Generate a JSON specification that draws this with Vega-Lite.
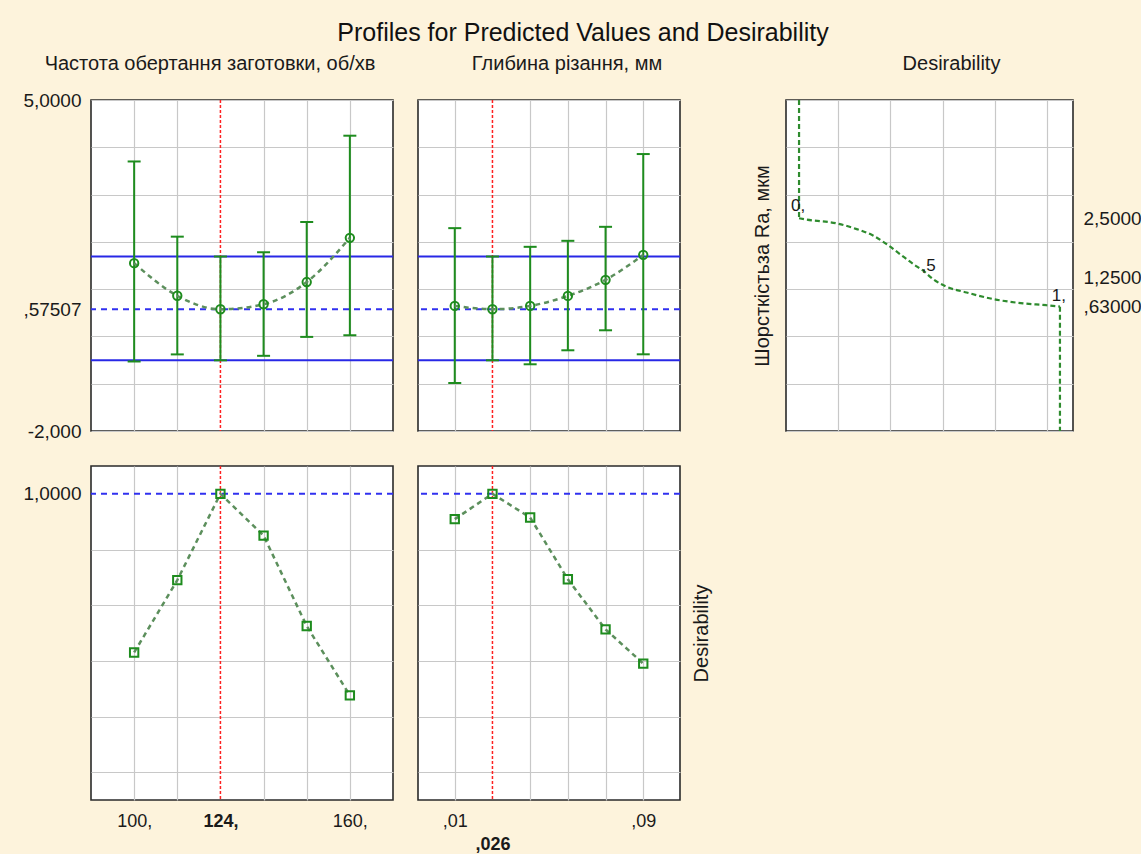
{
  "$schema": "https://vega.github.io/schema/vega-lite/v6.json",
  "background": "#fdf3dc",
  "padding": {"left": 22, "top": 21, "right": 0, "bottom": 0},
  "title": {"text": "Profiles for Predicted Values and Desirability", "fontSize": 25, "frame": "bounds", "anchor": "middle", "offset": -13, "baseline": "alphabetic", "dx": 1, "color": "#111111"},
  "config": {
    "font": "Liberation Sans",
    "view": {"stroke": "#2a2a2a", "strokeWidth": 1.6, "fill": "white"},
    "title": {"font": "Liberation Sans", "fontSize": 20, "fontWeight": "normal", "color": "#1a1a1a", "frame": "group", "anchor": "middle", "offset": 25, "baseline": "alphabetic"},
    "axis": {"gridColor": "#c8c8c8", "gridWidth": 1.2, "ticks": false, "domain": false, "labelFont": "Liberation Sans", "labelFontSize": 19, "labelColor": "#1a1a1a", "labelPadding": 10, "labelOverlap": false, "labelFlush": false, "titleFont": "Liberation Sans", "titleFontSize": 20, "titleFontWeight": "normal", "titleColor": "#1a1a1a"}
  },
  "datasets": {
    "speed": [
      {"x": 100, "pred": 1.55, "lo": -0.53, "hi": 3.70, "d": 0.43},
      {"x": 112, "pred": 0.86, "lo": -0.38, "hi": 2.11, "d": 0.69},
      {"x": 124, "pred": 0.575, "lo": -0.505, "hi": 1.69, "d": 1.0},
      {"x": 136, "pred": 0.68, "lo": -0.41, "hi": 1.78, "d": 0.85},
      {"x": 148, "pred": 1.15, "lo": -0.01, "hi": 2.42, "d": 0.525},
      {"x": 160, "pred": 2.085, "lo": 0.025, "hi": 4.245, "d": 0.276}
    ],
    "depth": [
      {"x": 0.01, "pred": 0.646, "lo": -0.985, "hi": 2.29, "d": 0.909},
      {"x": 0.026, "pred": 0.575, "lo": -0.505, "hi": 1.69, "d": 1.0},
      {"x": 0.042, "pred": 0.646, "lo": -0.589, "hi": 1.895, "d": 0.915},
      {"x": 0.058, "pred": 0.857, "lo": -0.293, "hi": 2.022, "d": 0.693},
      {"x": 0.074, "pred": 1.196, "lo": 0.13, "hi": 2.318, "d": 0.513},
      {"x": 0.09, "pred": 1.725, "lo": -0.378, "hi": 3.857, "d": 0.39}
    ],
    "refTop": [
      {"level": 1.69, "kind": "ci"},
      {"level": -0.505, "kind": "ci"},
      {"level": 0.57507, "kind": "mean"}
    ],
    "refBottom": [{"level": 1.0}],
    "current": [
      {"factor": "speed", "level": 124},
      {"factor": "depth", "level": 0.026}
    ],
    "curve": [
      {"d": 0, "ra": 2.5}, {"d": 0.03, "ra": 2.47}, {"d": 0.145, "ra": 2.39}, {"d": 0.221, "ra": 2.27},
      {"d": 0.285, "ra": 2.13}, {"d": 0.336, "ra": 1.95}, {"d": 0.387, "ra": 1.74}, {"d": 0.438, "ra": 1.53},
      {"d": 0.476, "ra": 1.39}, {"d": 0.514, "ra": 1.21}, {"d": 0.566, "ra": 1.05}, {"d": 0.642, "ra": 0.93},
      {"d": 0.744, "ra": 0.79}, {"d": 0.859, "ra": 0.70}, {"d": 0.948, "ra": 0.66}, {"d": 1.0, "ra": 0.63}
    ],
    "curveEnds": [
      {"d": 0, "top": 5, "bottom": 2.5},
      {"d": 1, "top": 0.63, "bottom": -2}
    ],
    "curveLabels": [
      {"d": 0, "ra": 2.75, "label": "0,"},
      {"d": 0.5, "ra": 1.49, "label": ",5"},
      {"d": 1, "ra": 0.86, "label": "1,"}
    ],
    "spacer": [{"z": 0}]
  },
  "columns": 4,
  "align": "each",
  "bounds": "flush",
  "spacing": {"row": 35, "column": 25},
  "concat": [
    {
      "width": 302, "height": 331,
      "title": {"text": "Частота обертання заготовки, об/хв", "dx": -32, "offset": 17},
      "resolve": {"axis": {"x": "independent", "y": "independent"}},
      "layer": [
        {"data": {"name": "refTop"}, "transform": [{"filter": "datum.kind == 'ci'"}],
         "mark": {"type": "rule", "color": "#2828e6", "strokeWidth": 2},
         "encoding": {"y": {"field": "level", "type": "quantitative", "scale": {"domain": [-2, 5], "nice": false, "zero": false},
           "axis": {"orient": "left", "values": [-2, -1, 0, 0.57507, 1, 2, 3, 4, 5], "title": null,
             "labelExpr": "datum.value == 5 ? '5,0000' : datum.value == -2 ? '-2,000' : datum.value == 0.57507 ? ',57507' : ''",
             "gridColor": {"condition": {"test": "datum.value == 0.57507", "value": "transparent"}, "value": "#c8c8c8"}}}}},
        {"data": {"name": "refTop"}, "transform": [{"filter": "datum.kind == 'mean'"}],
         "mark": {"type": "rule", "color": "#3030f0", "strokeWidth": 2, "strokeDash": [6, 5]},
         "encoding": {"y": {"field": "level", "type": "quantitative", "scale": {"domain": [-2, 5], "nice": false, "zero": false}, "axis": null}}},
        {"data": {"name": "current"}, "transform": [{"filter": "datum.factor == 'speed'"}],
         "mark": {"type": "rule", "color": "#ff2020", "strokeWidth": 1.5, "strokeDash": [3, 2]},
         "encoding": {"x": {"field": "level", "type": "quantitative", "scale": {"domain": [88, 172], "nice": false, "zero": false},
           "axis": {"orient": "bottom", "values": [100, 112, 124, 136, 148, 160], "labels": false, "title": null,
             "gridColor": {"condition": {"test": "datum.value == 124", "value": "transparent"}, "value": "#c8c8c8"}}}}},
        {"data": {"name": "speed"},
         "mark": {"type": "rule", "color": "#1e8c1e", "strokeWidth": 2},
         "encoding": {"x": {"field": "x", "type": "quantitative", "scale": {"domain": [88, 172], "nice": false, "zero": false}, "axis": null},
           "y": {"field": "lo", "type": "quantitative", "scale": {"domain": [-2, 5], "nice": false, "zero": false}, "axis": null},
           "y2": {"field": "hi"}}},
        {"data": {"name": "speed"},
         "mark": {"type": "tick", "orient": "horizontal", "color": "#1e8c1e", "size": 13, "thickness": 2, "opacity": 1},
         "encoding": {"x": {"field": "x", "type": "quantitative", "scale": {"domain": [88, 172], "nice": false, "zero": false}, "axis": null},
           "y": {"field": "lo", "type": "quantitative", "scale": {"domain": [-2, 5], "nice": false, "zero": false}, "axis": null}}},
        {"data": {"name": "speed"},
         "mark": {"type": "tick", "orient": "horizontal", "color": "#1e8c1e", "size": 13, "thickness": 2, "opacity": 1},
         "encoding": {"x": {"field": "x", "type": "quantitative", "scale": {"domain": [88, 172], "nice": false, "zero": false}, "axis": null},
           "y": {"field": "hi", "type": "quantitative", "scale": {"domain": [-2, 5], "nice": false, "zero": false}, "axis": null}}},
        {"data": {"name": "speed"},
         "mark": {"type": "line", "color": "#5c8f5c", "strokeWidth": 2.5, "strokeDash": [5, 4], "interpolate": "monotone"},
         "encoding": {"x": {"field": "x", "type": "quantitative", "scale": {"domain": [88, 172], "nice": false, "zero": false}, "axis": null},
           "y": {"field": "pred", "type": "quantitative", "scale": {"domain": [-2, 5], "nice": false, "zero": false}, "axis": null}}},
        {"data": {"name": "speed"},
         "mark": {"type": "point", "shape": "circle", "filled": false, "color": "#1e8c1e", "strokeWidth": 2, "size": 70, "opacity": 1},
         "encoding": {"x": {"field": "x", "type": "quantitative", "scale": {"domain": [88, 172], "nice": false, "zero": false}, "axis": null},
           "y": {"field": "pred", "type": "quantitative", "scale": {"domain": [-2, 5], "nice": false, "zero": false}, "axis": null}}}
      ]
    },
    {
      "width": 262, "height": 331,
      "title": {"text": "Глибина різання, мм", "dx": 18},
      "resolve": {"axis": {"x": "independent", "y": "independent"}},
      "layer": [
        {"data": {"name": "refTop"}, "transform": [{"filter": "datum.kind == 'ci'"}],
         "mark": {"type": "rule", "color": "#2828e6", "strokeWidth": 2},
         "encoding": {"y": {"field": "level", "type": "quantitative", "scale": {"domain": [-2, 5], "nice": false, "zero": false},
           "axis": {"orient": "left", "values": [-2, -1, 0, 1, 2, 3, 4, 5], "title": null, "labels": false}}}},
        {"data": {"name": "refTop"}, "transform": [{"filter": "datum.kind == 'mean'"}],
         "mark": {"type": "rule", "color": "#3030f0", "strokeWidth": 2, "strokeDash": [6, 5]},
         "encoding": {"y": {"field": "level", "type": "quantitative", "scale": {"domain": [-2, 5], "nice": false, "zero": false}, "axis": null}}},
        {"data": {"name": "current"}, "transform": [{"filter": "datum.factor == 'depth'"}],
         "mark": {"type": "rule", "color": "#ff2020", "strokeWidth": 1.5, "strokeDash": [3, 2]},
         "encoding": {"x": {"field": "level", "type": "quantitative", "scale": {"domain": [-0.0056, 0.1056], "nice": false, "zero": false},
           "axis": {"orient": "bottom", "values": [0.01, 0.026, 0.042, 0.058, 0.074, 0.09], "labels": false, "title": null,
             "gridColor": {"condition": {"test": "datum.value == 0.026", "value": "transparent"}, "value": "#c8c8c8"}}}}},
        {"data": {"name": "depth"},
         "mark": {"type": "rule", "color": "#1e8c1e", "strokeWidth": 2},
         "encoding": {"x": {"field": "x", "type": "quantitative", "scale": {"domain": [-0.0056, 0.1056], "nice": false, "zero": false}, "axis": null},
           "y": {"field": "lo", "type": "quantitative", "scale": {"domain": [-2, 5], "nice": false, "zero": false}, "axis": null},
           "y2": {"field": "hi"}}},
        {"data": {"name": "depth"},
         "mark": {"type": "tick", "orient": "horizontal", "color": "#1e8c1e", "size": 13, "thickness": 2, "opacity": 1},
         "encoding": {"x": {"field": "x", "type": "quantitative", "scale": {"domain": [-0.0056, 0.1056], "nice": false, "zero": false}, "axis": null},
           "y": {"field": "lo", "type": "quantitative", "scale": {"domain": [-2, 5], "nice": false, "zero": false}, "axis": null}}},
        {"data": {"name": "depth"},
         "mark": {"type": "tick", "orient": "horizontal", "color": "#1e8c1e", "size": 13, "thickness": 2, "opacity": 1},
         "encoding": {"x": {"field": "x", "type": "quantitative", "scale": {"domain": [-0.0056, 0.1056], "nice": false, "zero": false}, "axis": null},
           "y": {"field": "hi", "type": "quantitative", "scale": {"domain": [-2, 5], "nice": false, "zero": false}, "axis": null}}},
        {"data": {"name": "depth"},
         "mark": {"type": "line", "color": "#5c8f5c", "strokeWidth": 2.5, "strokeDash": [5, 4], "interpolate": "monotone"},
         "encoding": {"x": {"field": "x", "type": "quantitative", "scale": {"domain": [-0.0056, 0.1056], "nice": false, "zero": false}, "axis": null},
           "y": {"field": "pred", "type": "quantitative", "scale": {"domain": [-2, 5], "nice": false, "zero": false}, "axis": null}}},
        {"data": {"name": "depth"},
         "mark": {"type": "point", "shape": "circle", "filled": false, "color": "#1e8c1e", "strokeWidth": 2, "size": 70, "opacity": 1},
         "encoding": {"x": {"field": "x", "type": "quantitative", "scale": {"domain": [-0.0056, 0.1056], "nice": false, "zero": false}, "axis": null},
           "y": {"field": "pred", "type": "quantitative", "scale": {"domain": [-2, 5], "nice": false, "zero": false}, "axis": null}}}
      ]
    },
    {
      "width": 56, "height": 331,
      "view": {"stroke": null, "fill": null},
      "data": {"name": "spacer"},
      "mark": {"type": "point", "opacity": 0},
      "encoding": {}
    },
    {
      "width": 287, "height": 331,
      "title": {"text": "Desirability", "dx": 22},
      "resolve": {"axis": {"x": "independent", "y": "independent"}},
      "layer": [
        {"data": {"name": "curveEnds"},
         "mark": {"type": "rule", "color": "#2e8b2e", "strokeWidth": 2.2, "strokeDash": [5, 3]},
         "encoding": {"x": {"field": "d", "type": "quantitative", "scale": {"domain": [-0.05, 1.05], "nice": false, "zero": false},
             "axis": {"orient": "bottom", "values": [0.15, 0.35, 0.55, 0.75, 0.95], "labels": false, "title": null}},
           "y": {"field": "top", "type": "quantitative", "scale": {"domain": [-2, 5], "nice": false, "zero": false},
             "axis": {"orient": "left", "values": [-2, -1, 0, 1, 2, 3, 4, 5], "labels": false, "title": "Шорсткістьза Ra, мкм", "titlePadding": 14}},
           "y2": {"field": "bottom"}}},
        {"data": {"name": "curve"},
         "mark": {"type": "line", "color": "#2e8b2e", "strokeWidth": 2.2, "strokeDash": [5, 3], "interpolate": "monotone"},
         "encoding": {"x": {"field": "d", "type": "quantitative", "scale": {"domain": [-0.05, 1.05], "nice": false, "zero": false}, "axis": null},
           "y": {"field": "ra", "type": "quantitative", "scale": {"domain": [-2, 5], "nice": false, "zero": false}, "axis": null}}},
        {"data": {"name": "curveLabels"},
         "mark": {"type": "text", "fontSize": 17, "color": "#1a1a1a", "baseline": "middle", "align": "center", "dx": -1},
         "encoding": {"x": {"field": "d", "type": "quantitative", "scale": {"domain": [-0.05, 1.05], "nice": false, "zero": false}, "axis": null},
           "y": {"field": "ra", "type": "quantitative", "scale": {"domain": [-2, 5], "nice": false, "zero": false},
             "axis": {"orient": "right", "values": [2.5, 1.25, 0.63], "grid": false, "title": null, "labelAlign": "left",
               "labelExpr": "datum.value == 2.5 ? '2,5000' : datum.value == 1.25 ? '1,2500' : ',63000'"}},
           "text": {"field": "label", "type": "nominal"}}}
      ]
    },
    {
      "width": 302, "height": 334,
      "resolve": {"axis": {"x": "independent", "y": "independent"}},
      "layer": [
        {"data": {"name": "refBottom"},
         "mark": {"type": "rule", "color": "#3030f0", "strokeWidth": 2, "strokeDash": [6, 5]},
         "encoding": {"y": {"field": "level", "type": "quantitative", "scale": {"domain": [-0.1, 1.1], "nice": false, "zero": false},
           "axis": {"orient": "left", "values": [0, 0.2, 0.4, 0.6, 0.8, 1], "title": null,
             "labelExpr": "datum.value == 1 ? '1,0000' : ''",
             "gridColor": {"condition": {"test": "datum.value == 1", "value": "transparent"}, "value": "#c8c8c8"}}}}},
        {"data": {"name": "current"}, "transform": [{"filter": "datum.factor == 'speed'"}],
         "mark": {"type": "rule", "color": "#ff2020", "strokeWidth": 1.5, "strokeDash": [3, 2]},
         "encoding": {"x": {"field": "level", "type": "quantitative", "scale": {"domain": [88, 172], "nice": false, "zero": false},
           "axis": {"orient": "bottom", "values": [100, 112, 124, 136, 148, 160], "title": null, "labelFontSize": 18, "labelPadding": 12,
             "labelExpr": "datum.value == 100 ? '100,' : datum.value == 124 ? '124,' : datum.value == 160 ? '160,' : ''",
             "labelFontWeight": {"condition": {"test": "datum.value == 124", "value": "bold"}, "value": "normal"},
             "gridColor": {"condition": {"test": "datum.value == 124", "value": "transparent"}, "value": "#c8c8c8"}}}}},
        {"data": {"name": "speed"},
         "mark": {"type": "line", "color": "#5c8f5c", "strokeWidth": 2.5, "strokeDash": [5, 4]},
         "encoding": {"x": {"field": "x", "type": "quantitative", "scale": {"domain": [88, 172], "nice": false, "zero": false}, "axis": null},
           "y": {"field": "d", "type": "quantitative", "scale": {"domain": [-0.1, 1.1], "nice": false, "zero": false}, "axis": null}}},
        {"data": {"name": "speed"},
         "mark": {"type": "point", "shape": "square", "filled": false, "color": "#1e8c1e", "strokeWidth": 2, "size": 70, "opacity": 1},
         "encoding": {"x": {"field": "x", "type": "quantitative", "scale": {"domain": [88, 172], "nice": false, "zero": false}, "axis": null},
           "y": {"field": "d", "type": "quantitative", "scale": {"domain": [-0.1, 1.1], "nice": false, "zero": false}, "axis": null}}}
      ]
    },
    {
      "width": 262, "height": 334,
      "resolve": {"axis": {"x": "independent", "y": "independent"}},
      "layer": [
        {"data": {"name": "refBottom"},
         "mark": {"type": "rule", "color": "#3030f0", "strokeWidth": 2, "strokeDash": [6, 5]},
         "encoding": {"y": {"field": "level", "type": "quantitative", "scale": {"domain": [-0.1, 1.1], "nice": false, "zero": false},
           "axis": {"orient": "right", "values": [0, 0.2, 0.4, 0.6, 0.8, 1], "labels": false, "title": "Desirability", "titleAngle": 270, "titleBaseline": "top", "titlePadding": 11,
             "gridColor": {"condition": {"test": "datum.value == 1", "value": "transparent"}, "value": "#c8c8c8"}}}}},
        {"data": {"name": "current"}, "transform": [{"filter": "datum.factor == 'depth'"}],
         "mark": {"type": "rule", "color": "#ff2020", "strokeWidth": 1.5, "strokeDash": [3, 2]},
         "encoding": {"x": {"field": "level", "type": "quantitative", "scale": {"domain": [-0.0056, 0.1056], "nice": false, "zero": false},
           "axis": {"orient": "bottom", "values": [0.01, 0.026, 0.042, 0.058, 0.074, 0.09], "title": null, "labelFontSize": 18, "labelPadding": 12,
             "labelExpr": "datum.value == 0.01 ? ',01' : datum.value == 0.09 ? ',09' : ''",
             "gridColor": {"condition": {"test": "datum.value == 0.026", "value": "transparent"}, "value": "#c8c8c8"}}}}},
        {"data": {"name": "depth"},
         "mark": {"type": "line", "color": "#5c8f5c", "strokeWidth": 2.5, "strokeDash": [5, 4]},
         "encoding": {"x": {"field": "x", "type": "quantitative", "scale": {"domain": [-0.0056, 0.1056], "nice": false, "zero": false}, "axis": null},
           "y": {"field": "d", "type": "quantitative", "scale": {"domain": [-0.1, 1.1], "nice": false, "zero": false}, "axis": null}}},
        {"data": {"name": "depth"},
         "mark": {"type": "point", "shape": "square", "filled": false, "color": "#1e8c1e", "strokeWidth": 2, "size": 70, "opacity": 1},
         "encoding": {"x": {"field": "x", "type": "quantitative", "scale": {"domain": [-0.0056, 0.1056], "nice": false, "zero": false},
             "axis": {"orient": "bottom", "values": [0.026], "grid": false, "title": null, "labelFontSize": 18, "labelFontWeight": "bold", "labelPadding": 35,
               "labelExpr": "',026'"}},
           "y": {"field": "d", "type": "quantitative", "scale": {"domain": [-0.1, 1.1], "nice": false, "zero": false}, "axis": null}}}
      ]
    }
  ]
}
